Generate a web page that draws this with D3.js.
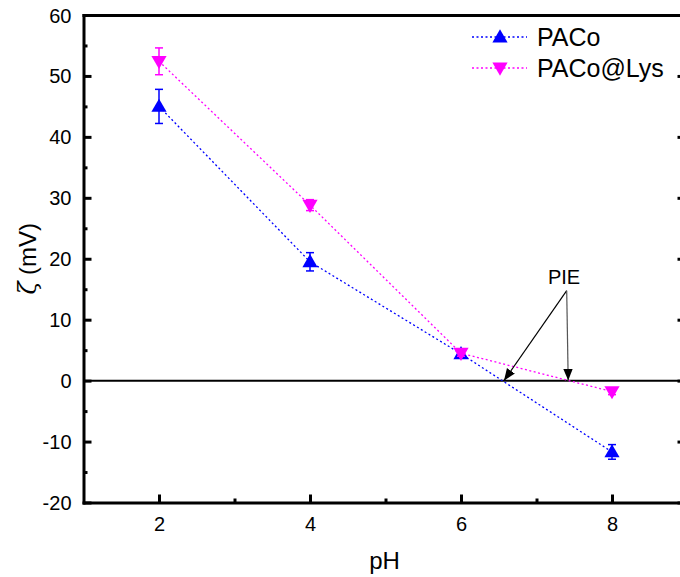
<!DOCTYPE html>
<html><head><meta charset="utf-8">
<script src="https://cdn.jsdelivr.net/npm/d3@7"></script>
<style>body{margin:0;background:#fff}svg{display:block;font-family:"Liberation Sans",Arial,sans-serif}</style>
</head><body><svg id="c" width="680" height="577"></svg>
<script>
const phValues = [2, 4, 6, 8];
const pacoZeta = [45.0, 19.5, 4.4, -11.7];
const pacoErr = [2.8, 1.5, 0.6, 1.2];
const lysZeta = [52.4, 28.8, 4.5, -1.8];
const lysErr = [2.2, 0.9, 0.5, 0.5];
const seriesNames = ["PACo", "PACo@Lys"];
const seriesColors = ["#0000ff", "#ff00ff"];
const xTicks = [2, 4, 6, 8];
const yTicks = [-20, -10, 0, 10, 20, 30, 40, 50, 60];
const pieX = [6.57, 7.42];

const svg = d3.select("#c");
const L = 83.5, R = 685.5, T = 15, B = 502.5;
const x = d3.scaleLinear().domain([1, 1 + (R - L) / 75.5]).range([L, R]);
const y = d3.scaleLinear().domain([-20, 60]).range([B, T]);
const fmt = d => String(d);

// zero line
svg.append("line").attr("x1", L).attr("x2", R).attr("y1", y(0)).attr("y2", y(0))
  .attr("stroke", "#000").attr("stroke-width", 2);

// minor ticks
const yMinor = d3.range(-15, 60, 10);
const xMinor = [3, 5, 7];
svg.append("g").attr("transform", `translate(${L},0)`).call(d3.axisLeft(y).tickValues(yMinor).tickSize(-4).tickSizeOuter(0).tickFormat("")).select(".domain").remove();
svg.append("g").attr("transform", `translate(0,${B})`).call(d3.axisBottom(x).tickValues(xMinor).tickSize(-4).tickSizeOuter(0).tickFormat("")).select(".domain").remove();
svg.append("g").attr("transform", `translate(${R},0)`).call(d3.axisRight(y).tickValues(yMinor).tickSize(-4).tickSizeOuter(0).tickFormat("")).select(".domain").remove();

// axes
const gL = svg.append("g").attr("transform", `translate(${L},0)`)
  .call(d3.axisLeft(y).tickValues(yTicks).tickSize(-8).tickSizeOuter(0).tickPadding(12).tickFormat(fmt));
const gB = svg.append("g").attr("transform", `translate(0,${B})`)
  .call(d3.axisBottom(x).tickValues(xTicks).tickSize(-8).tickSizeOuter(0).tickPadding(14).tickFormat(fmt));
svg.append("g").attr("transform", `translate(${R},0)`)
  .call(d3.axisRight(y).tickValues(yTicks).tickSize(-8).tickSizeOuter(0).tickFormat(""));
svg.append("g").attr("transform", `translate(0,${T})`)
  .call(d3.axisTop(x).tickValues([]).tickSize(0).tickSizeOuter(0).tickFormat(""));

svg.selectAll(".domain").attr("stroke", "#000").attr("stroke-width", 3).attr("stroke-linecap", "square");
svg.selectAll(".tick line").attr("stroke", "#000").attr("stroke-width", 3);
svg.selectAll(".tick text").attr("font-size", 20).attr("fill", "#000").attr("font-family", "Liberation Sans, Arial, sans-serif");
gL.selectAll(".tick text").attr("dy", "0.35em");

// axis titles
svg.append("text").attr("x", (L + R) / 2).attr("y", 569).attr("text-anchor", "middle")
  .attr("font-size", 24).text("pH");
const yt = svg.append("text").attr("transform", `translate(36,${(T + B) / 2}) rotate(-90)`).attr("text-anchor", "middle")
  .attr("font-size", 24);
yt.append("tspan").attr("font-family", "DejaVu Serif, serif").attr("font-style", "italic").text("ζ");
yt.append("tspan").text(" (mV)");

// series
const series = [
  {name: seriesNames[0], color: seriesColors[0], vals: pacoZeta, err: pacoErr, rot: 0},
  {name: seriesNames[1], color: seriesColors[1], vals: lysZeta, err: lysErr, rot: 180}
];
const sym = d3.symbol().type(d3.symbolTriangle).size(100);
series.forEach(s => {
  const pts = phValues.map((p, i) => [p, s.vals[i], s.err[i]]);
  svg.append("path").datum(pts)
    .attr("d", d3.line().x(d => x(d[0])).y(d => y(d[1])))
    .attr("fill", "none").attr("stroke", s.color).attr("stroke-width", 1.3).attr("stroke-dasharray", "2,2.5");
  const g = svg.append("g");
  pts.forEach(d => {
    const cx = x(d[0]);
    g.append("line").attr("x1", cx).attr("x2", cx).attr("y1", y(d[1] + d[2])).attr("y2", y(d[1] - d[2]))
      .attr("stroke", s.color).attr("stroke-width", 1.5);
    [d[1] + d[2], d[1] - d[2]].forEach(v => g.append("line").attr("x1", cx - 4).attr("x2", cx + 4)
      .attr("y1", y(v)).attr("y2", y(v)).attr("stroke", s.color).attr("stroke-width", 1.5));
    g.append("path").attr("d", sym()).attr("fill", s.color)
      .attr("transform", `translate(${cx},${y(d[1]) + (s.rot ? -1 : 1)}) rotate(${s.rot})`);
  });
});

// legend
series.forEach((s, i) => {
  const ly = 37 + i * 31;
  svg.append("line").attr("x1", 472).attr("x2", 527).attr("y1", ly).attr("y2", ly)
    .attr("stroke", s.color).attr("stroke-width", 1.3).attr("stroke-dasharray", "2,2.5");
  svg.append("path").attr("d", sym()).attr("fill", s.color)
    .attr("transform", `translate(500,${ly + (s.rot ? -1 : 1)}) rotate(${s.rot})`);
  svg.append("text").attr("x", 537).attr("y", ly + 9).attr("font-size", 25).text(s.name);
});

// PIE annotation
const defs = svg.append("defs");
defs.append("marker").attr("id", "ah").attr("viewBox", "0 0 10 10").attr("refX", 10).attr("refY", 5)
  .attr("markerWidth", 12).attr("markerHeight", 12).attr("markerUnits", "userSpaceOnUse").attr("orient", "auto")
  .append("path").attr("d", "M0,1 L10,5 L0,9 Z").attr("fill", "#000");
const ox = 566.7, oy = 290.7;
svg.append("text").attr("x", 564).attr("y", 284).attr("text-anchor", "middle").attr("font-size", 20).text("PIE");
pieX.forEach((p, i) => {
  svg.append("line").attr("x1", ox).attr("y1", oy).attr("x2", x(p)).attr("y2", y(0))
    .attr("stroke", i ? "#555" : "#000").attr("stroke-width", 1.2).attr("marker-end", "url(#ah)");
});
</script></body></html>
